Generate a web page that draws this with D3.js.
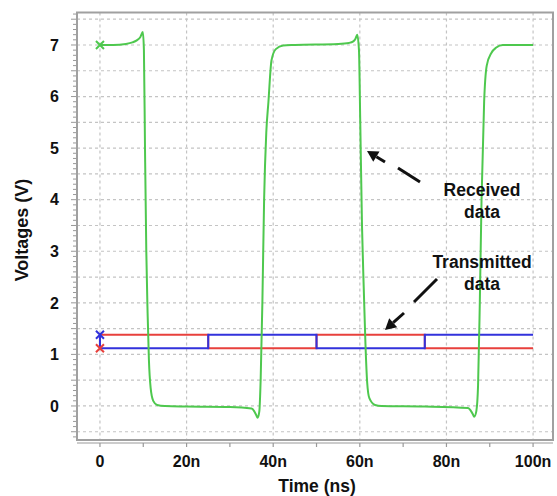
<!DOCTYPE html>
<html>
<head>
<meta charset="utf-8">
<script src="https://cdn.jsdelivr.net/npm/d3@7"></script>
<style>
  body { margin: 0; background: #fff; }
  text { font-family: "Liberation Sans", Arial, sans-serif; font-weight: bold; fill: #111; }
</style>
</head>
<body>
<script>
// received data (green), time in ns, voltage in V
var rxTime = [0, 3, 6, 7.5, 8.5, 9.3, 9.9, 10.15, 10.4, 10.7, 11.0, 11.3, 11.7, 12.3, 13.2, 15, 20, 30, 35, 35.6, 36.1, 36.4, 36.8, 37.1, 37.5, 37.9, 38.4, 38.9, 39.6, 40.6, 42.3, 45, 55, 57.5, 58.5, 59.0, 59.4, 59.8, 60.1, 60.5, 60.9, 61.3, 61.7, 62.2, 63.5, 65, 75, 85, 85.6, 86.1, 86.4, 86.9, 87.3, 87.7, 88.1, 88.7, 89.3, 90.4, 91.5, 93, 100];
var rxVolt = [7.0, 7.0, 7.02, 7.05, 7.09, 7.15, 7.25, 6.9, 5.0, 3.0, 1.8, 0.9, 0.35, 0.1, 0.02, 0.0, -0.01, -0.02, -0.05, -0.1, -0.18, -0.23, -0.1, 0.5, 2.0, 4.0, 5.3, 5.9, 6.7, 6.92, 6.99, 7.0, 7.02, 7.04, 7.07, 7.12, 7.2, 6.9, 5.5, 3.5, 2.3, 1.2, 0.45, 0.15, 0.02, 0.0, -0.01, -0.04, -0.09, -0.16, -0.21, -0.1, 0.4, 2.0, 4.0, 5.9, 6.6, 6.85, 6.95, 7.0, 7.0];

// transmitted data (step signals)
var txTime = [0, 0, 25, 50, 75, 100];
var blueVolt = [1.38, 1.12, 1.38, 1.12, 1.38, 1.38];
var redVolt = [1.12, 1.38, 1.12, 1.38, 1.12, 1.12];

var yTicks = [0, 1, 2, 3, 4, 5, 6, 7];
var xTicks = [0, 20, 40, 60, 80, 100];
var xTickLabels = ["0", "20n", "40n", "60n", "80n", "100n"];

var width = 557, height = 496;
var plotLeft = 77, plotRight = 553, plotTop = 12.5, plotBottom = 440;

var svg = d3.select("body").append("svg")
    .attr("width", width)
    .attr("height", height);

var x = d3.scaleLinear().domain([-5.3, 104.6]).range([plotLeft, plotRight]);
var y = d3.scaleLinear().domain([-0.66, 7.63]).range([plotBottom, plotTop]);

// grid
var hGrid = d3.range(-0.5, 7.51, 0.5);
svg.selectAll(".hgrid").data(hGrid).enter().append("line")
    .attr("x1", plotLeft).attr("x2", plotRight)
    .attr("y1", d => y(d)).attr("y2", d => y(d))
    .attr("stroke", "#c4c4c4").attr("stroke-width", 1.2)
    .attr("stroke-dasharray", "3,3");
svg.selectAll(".vgrid").data(xTicks).enter().append("line")
    .attr("x1", d => x(d)).attr("x2", d => x(d))
    .attr("y1", plotTop).attr("y2", plotBottom)
    .attr("stroke", "#c4c4c4").attr("stroke-width", 1.2)
    .attr("stroke-dasharray", "3,3");

// frame
svg.append("rect")
    .attr("x", plotLeft).attr("y", plotTop)
    .attr("width", plotRight - plotLeft).attr("height", plotBottom - plotTop)
    .attr("fill", "none").attr("stroke", "#a0a0a0").attr("stroke-width", 2);

// y axis minor ticks at the left of the frame
var yMinor = d3.range(-0.6, 7.61, 0.1);
svg.selectAll(".ytick").data(yMinor).enter().append("line")
    .attr("x1", d => (Math.abs(d * 2 - Math.round(d * 2)) < 0.01) ? plotLeft - 6 : plotLeft - 4)
    .attr("x2", plotLeft - 1)
    .attr("y1", d => y(d)).attr("y2", d => y(d))
    .attr("stroke", "#999").attr("stroke-width", 1);

// x axis line below the frame
svg.append("line")
    .attr("x1", plotLeft).attr("x2", plotRight)
    .attr("y1", plotBottom + 3).attr("y2", plotBottom + 3)
    .attr("stroke", "#999").attr("stroke-width", 1.2);
var xMinor = d3.range(0, 101, 10);
svg.selectAll(".xtick").data(xMinor).enter().append("line")
    .attr("x1", d => x(d)).attr("x2", d => x(d))
    .attr("y1", plotBottom + 3).attr("y2", plotBottom + 7)
    .attr("stroke", "#999").attr("stroke-width", 1.2);

// tick labels
svg.selectAll(".ylab").data(yTicks).enter().append("text")
    .attr("x", 59).attr("y", d => y(d))
    .attr("dy", "0.36em")
    .attr("text-anchor", "end")
    .style("font-size", "16px")
    .text(d => d);
svg.selectAll(".xlab").data(xTicks).enter().append("text")
    .attr("x", d => x(d)).attr("y", 467)
    .attr("text-anchor", "middle")
    .style("font-size", "16px")
    .text((d, i) => xTickLabels[i]);

// axis titles
svg.append("text")
    .attr("x", 317).attr("y", 492)
    .attr("text-anchor", "middle")
    .style("font-size", "17.5px")
    .text("Time (ns)");
svg.append("text")
    .attr("transform", "translate(28,230) rotate(-90)")
    .attr("text-anchor", "middle")
    .style("font-size", "18px")
    .text("Voltages (V)");

// signals
var rxData = rxTime.map((t, i) => [t, rxVolt[i]]);
var redData = txTime.map((t, i) => [t, redVolt[i]]);
var blueData = txTime.map((t, i) => [t, blueVolt[i]]);

var stepLine = d3.line().x(d => x(d[0])).y(d => y(d[1])).curve(d3.curveStepAfter);
var smoothLine = d3.line().x(d => x(d[0])).y(d => y(d[1])).curve(d3.curveMonotoneX);

svg.append("path").datum(redData)
    .attr("d", stepLine)
    .attr("fill", "none").attr("stroke", "#e8403c").attr("stroke-width", 2);
svg.append("path").datum(blueData)
    .attr("d", stepLine)
    .attr("fill", "none").attr("stroke", "#3232dc").attr("stroke-width", 2);
svg.append("path").datum(rxData)
    .attr("d", smoothLine)
    .attr("fill", "none").attr("stroke", "#4ec84e").attr("stroke-width", 2);

// start markers
var markers = [
    { t: rxTime[0], v: rxVolt[0], c: "#4ec84e" },
    { t: txTime[0], v: blueVolt[0], c: "#3232dc" },
    { t: txTime[0], v: redVolt[0], c: "#e8403c" }
];
markers.forEach(function(m) {
    var cx = x(m.t), cy = y(m.v), s = 4;
    svg.append("path")
        .attr("d", `M${cx - s},${cy - s}L${cx + s},${cy + s}M${cx - s},${cy + s}L${cx + s},${cy - s}`)
        .attr("stroke", m.c).attr("stroke-width", 2).attr("fill", "none");
});

// annotations
function arrow(tip, head, shaftStart, shaftEnd) {
    svg.append("line")
        .attr("x1", shaftStart[0]).attr("y1", shaftStart[1])
        .attr("x2", shaftEnd[0]).attr("y2", shaftEnd[1])
        .attr("stroke", "#111").attr("stroke-width", 3);
    var dx = tip[0] - head[0], dy = tip[1] - head[1];
    var len = Math.sqrt(dx * dx + dy * dy);
    var ux = dx / len, uy = dy / len;
    var w = 6;
    var bx = tip[0] - ux * 11, by = tip[1] - uy * 11;
    svg.append("path")
        .attr("d", `M${tip[0]},${tip[1]}L${bx + uy * w},${by - ux * w}L${bx - uy * w},${by + ux * w}Z`)
        .attr("fill", "#111");
    svg.append("line")
        .attr("x1", bx).attr("y1", by)
        .attr("x2", head[0]).attr("y2", head[1])
        .attr("stroke", "#111").attr("stroke-width", 3);
}
arrow([367, 151], [385, 162], [398, 168], [420, 182]);
arrow([385, 330], [404, 313], [414, 302], [437, 279]);

svg.append("text").attr("x", 482).attr("y", 196)
    .attr("text-anchor", "middle").style("font-size", "17.5px").text("Received");
svg.append("text").attr("x", 482).attr("y", 218)
    .attr("text-anchor", "middle").style("font-size", "17.5px").text("data");
svg.append("text").attr("x", 482).attr("y", 268)
    .attr("text-anchor", "middle").style("font-size", "17.5px").text("Transmitted");
svg.append("text").attr("x", 482).attr("y", 290)
    .attr("text-anchor", "middle").style("font-size", "17.5px").text("data");
</script>
</body>
</html>
